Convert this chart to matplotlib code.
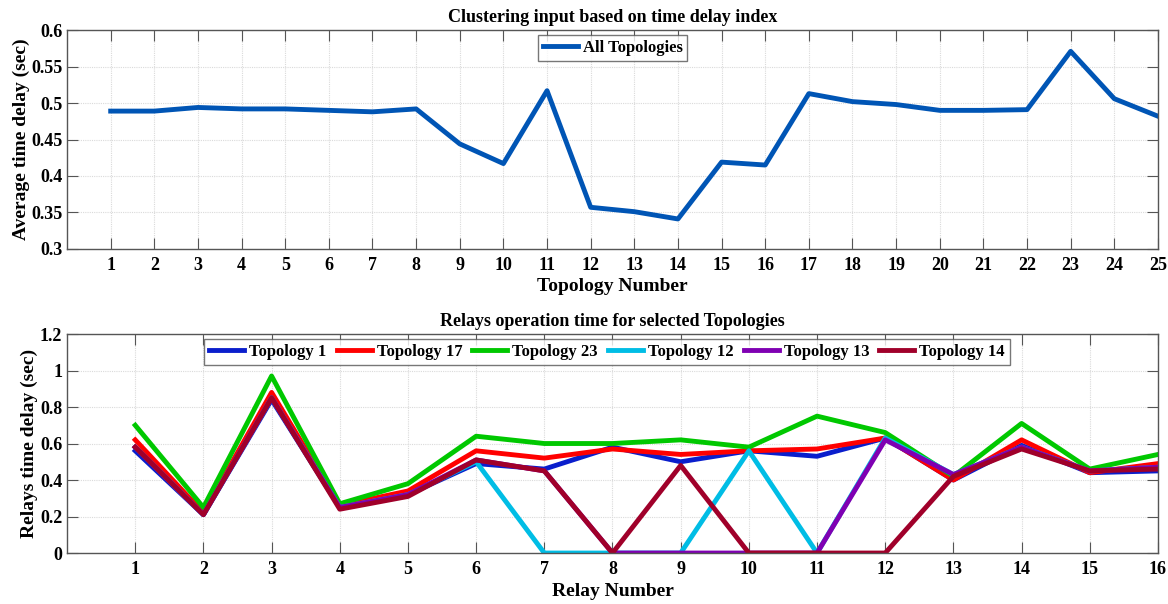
#!/usr/bin/env python3
import matplotlib
matplotlib.use('Agg')
import matplotlib.pyplot as plt
import numpy as np

# Average time delay for each topology
topologyNumbers = list(range(1, 26))
avgDelay = [0.489, 0.489, 0.494, 0.492, 0.492, 0.490, 0.488, 0.492, 0.444, 0.417,
            0.517, 0.357, 0.351, 0.341, 0.419, 0.415, 0.513, 0.502, 0.498, 0.490,
            0.490, 0.491, 0.571, 0.506, 0.482]

# Relay operation times for the selected topologies
relayNumbers = list(range(1, 17))
topo1 = [0.56, 0.21, 0.84, 0.25, 0.32, 0.49, 0.46, 0.58, 0.50, 0.56, 0.53, 0.63, 0.40, 0.59, 0.44, 0.45]
topo17 = [0.62, 0.22, 0.88, 0.26, 0.34, 0.56, 0.52, 0.57, 0.54, 0.56, 0.57, 0.63, 0.40, 0.62, 0.44, 0.49]
topo23 = [0.70, 0.25, 0.97, 0.27, 0.38, 0.64, 0.60, 0.60, 0.62, 0.58, 0.75, 0.66, 0.42, 0.71, 0.46, 0.54]
topo12 = [0.58, 0.21, 0.85, 0.25, 0.32, 0.50, 0.00, 0.00, 0.00, 0.56, 0.00, 0.63, 0.43, 0.58, 0.45, 0.47]
topo13 = [0.58, 0.21, 0.85, 0.25, 0.32, 0.51, 0.45, 0.00, 0.00, 0.00, 0.00, 0.62, 0.43, 0.58, 0.45, 0.47]
topo14 = [0.58, 0.21, 0.85, 0.24, 0.31, 0.51, 0.45, 0.00, 0.48, 0.00, 0.00, 0.00, 0.42, 0.57, 0.45, 0.46]

relaySeries = [topo1, topo17, topo23, topo12, topo13, topo14]
relayLabels = ['Topology 1', 'Topology 17', 'Topology 23', 'Topology 12', 'Topology 13', 'Topology 14']
relayColors = ['#0A1ECC', '#FF0000', '#00C800', '#00BDE5', '#7F00B2', '#A0002A']

plt.rcParams['font.family'] = ['Liberation Serif', 'DejaVu Serif']
plt.rcParams['font.weight'] = 'bold'
plt.rcParams['axes.labelweight'] = 'bold'
plt.rcParams['axes.titleweight'] = 'bold'

figureWidth = 11.68
figureHeight = 6.04
fig = plt.figure(figsize=(figureWidth, figureHeight), dpi=100)


def style_panel(panel):
    panel.grid(True, color='#dadada', linewidth=0.8, linestyle=(0, (1, 1)))
    panel.set_axisbelow(True)
    for spine in panel.spines.values():
        spine.set_color('#555555')
        spine.set_linewidth(1.0)
    panel.tick_params(axis='both', which='both', direction='in', top=True, right=True,
                      length=8, width=0.8, color='#555555', labelsize=13, pad=3.5)
    panel.tick_params(axis='x', pad=6)
    for lab in panel.get_xticklabels() + panel.get_yticklabels():
        lab.set_fontweight('bold')


# Top panel: average delay per topology
topPanel = fig.add_axes([0.0574, 0.588, 0.934, 0.362])
topPanel.plot(topologyNumbers, avgDelay, color='#0055B5', linewidth=3.5, label='All Topologies')
topPanel.set_xlim(0, 25)
topPanel.set_ylim(0.3, 0.6)
topPanel.set_xticks(topologyNumbers)
topPanel.set_yticks(np.arange(0.3, 0.601, 0.05))
topPanel.set_yticklabels(['0.3', '0.35', '0.4', '0.45', '0.5', '0.55', '0.6'])
topPanel.set_xlabel('Topology Number', fontsize=14, labelpad=3)
topPanel.set_ylabel('Average time delay (sec)', fontsize=14, labelpad=1)
topPanel.set_title('Clustering input based on time delay index', fontsize=13, pad=6)
style_panel(topPanel)
leg = topPanel.legend(loc='upper center', fontsize=12, frameon=True, fancybox=False,
                      edgecolor='#555555', borderpad=0.3, handlelength=2.1,
                      handletextpad=0.3, borderaxespad=0.3)
leg.get_frame().set_linewidth(1.0)

# Bottom panel: relay operation times
bottomPanel = fig.add_axes([0.0574, 0.0844, 0.934, 0.3626])
for series, name, col in zip(relaySeries, relayLabels, relayColors):
    bottomPanel.plot(relayNumbers, series, color=col, linewidth=3.5, label=name)
bottomPanel.set_xlim(0, 16)
bottomPanel.set_ylim(0, 1.2)
bottomPanel.set_xticks(relayNumbers)
bottomPanel.set_yticks([0, 0.2, 0.4, 0.6, 0.8, 1.0, 1.2])
bottomPanel.set_yticklabels(['0', '0.2', '0.4', '0.6', '0.8', '1', '1.2'])
bottomPanel.set_xlabel('Relay Number', fontsize=14, labelpad=3)
bottomPanel.set_ylabel('Relays time delay (sec)', fontsize=14, labelpad=1)
bottomPanel.set_title('Relays operation time for selected Topologies', fontsize=13, pad=6)
style_panel(bottomPanel)
leg2 = bottomPanel.legend(loc='upper center', bbox_to_anchor=(0.495, 1.0), ncol=6, fontsize=12,
                          frameon=True, fancybox=False, edgecolor='#555555', borderpad=0.3,
                          handlelength=2.1, handletextpad=0.3, columnspacing=0.6,
                          borderaxespad=0.3)
leg2.get_frame().set_linewidth(1.0)

plt.savefig('out.png', dpi=100)
